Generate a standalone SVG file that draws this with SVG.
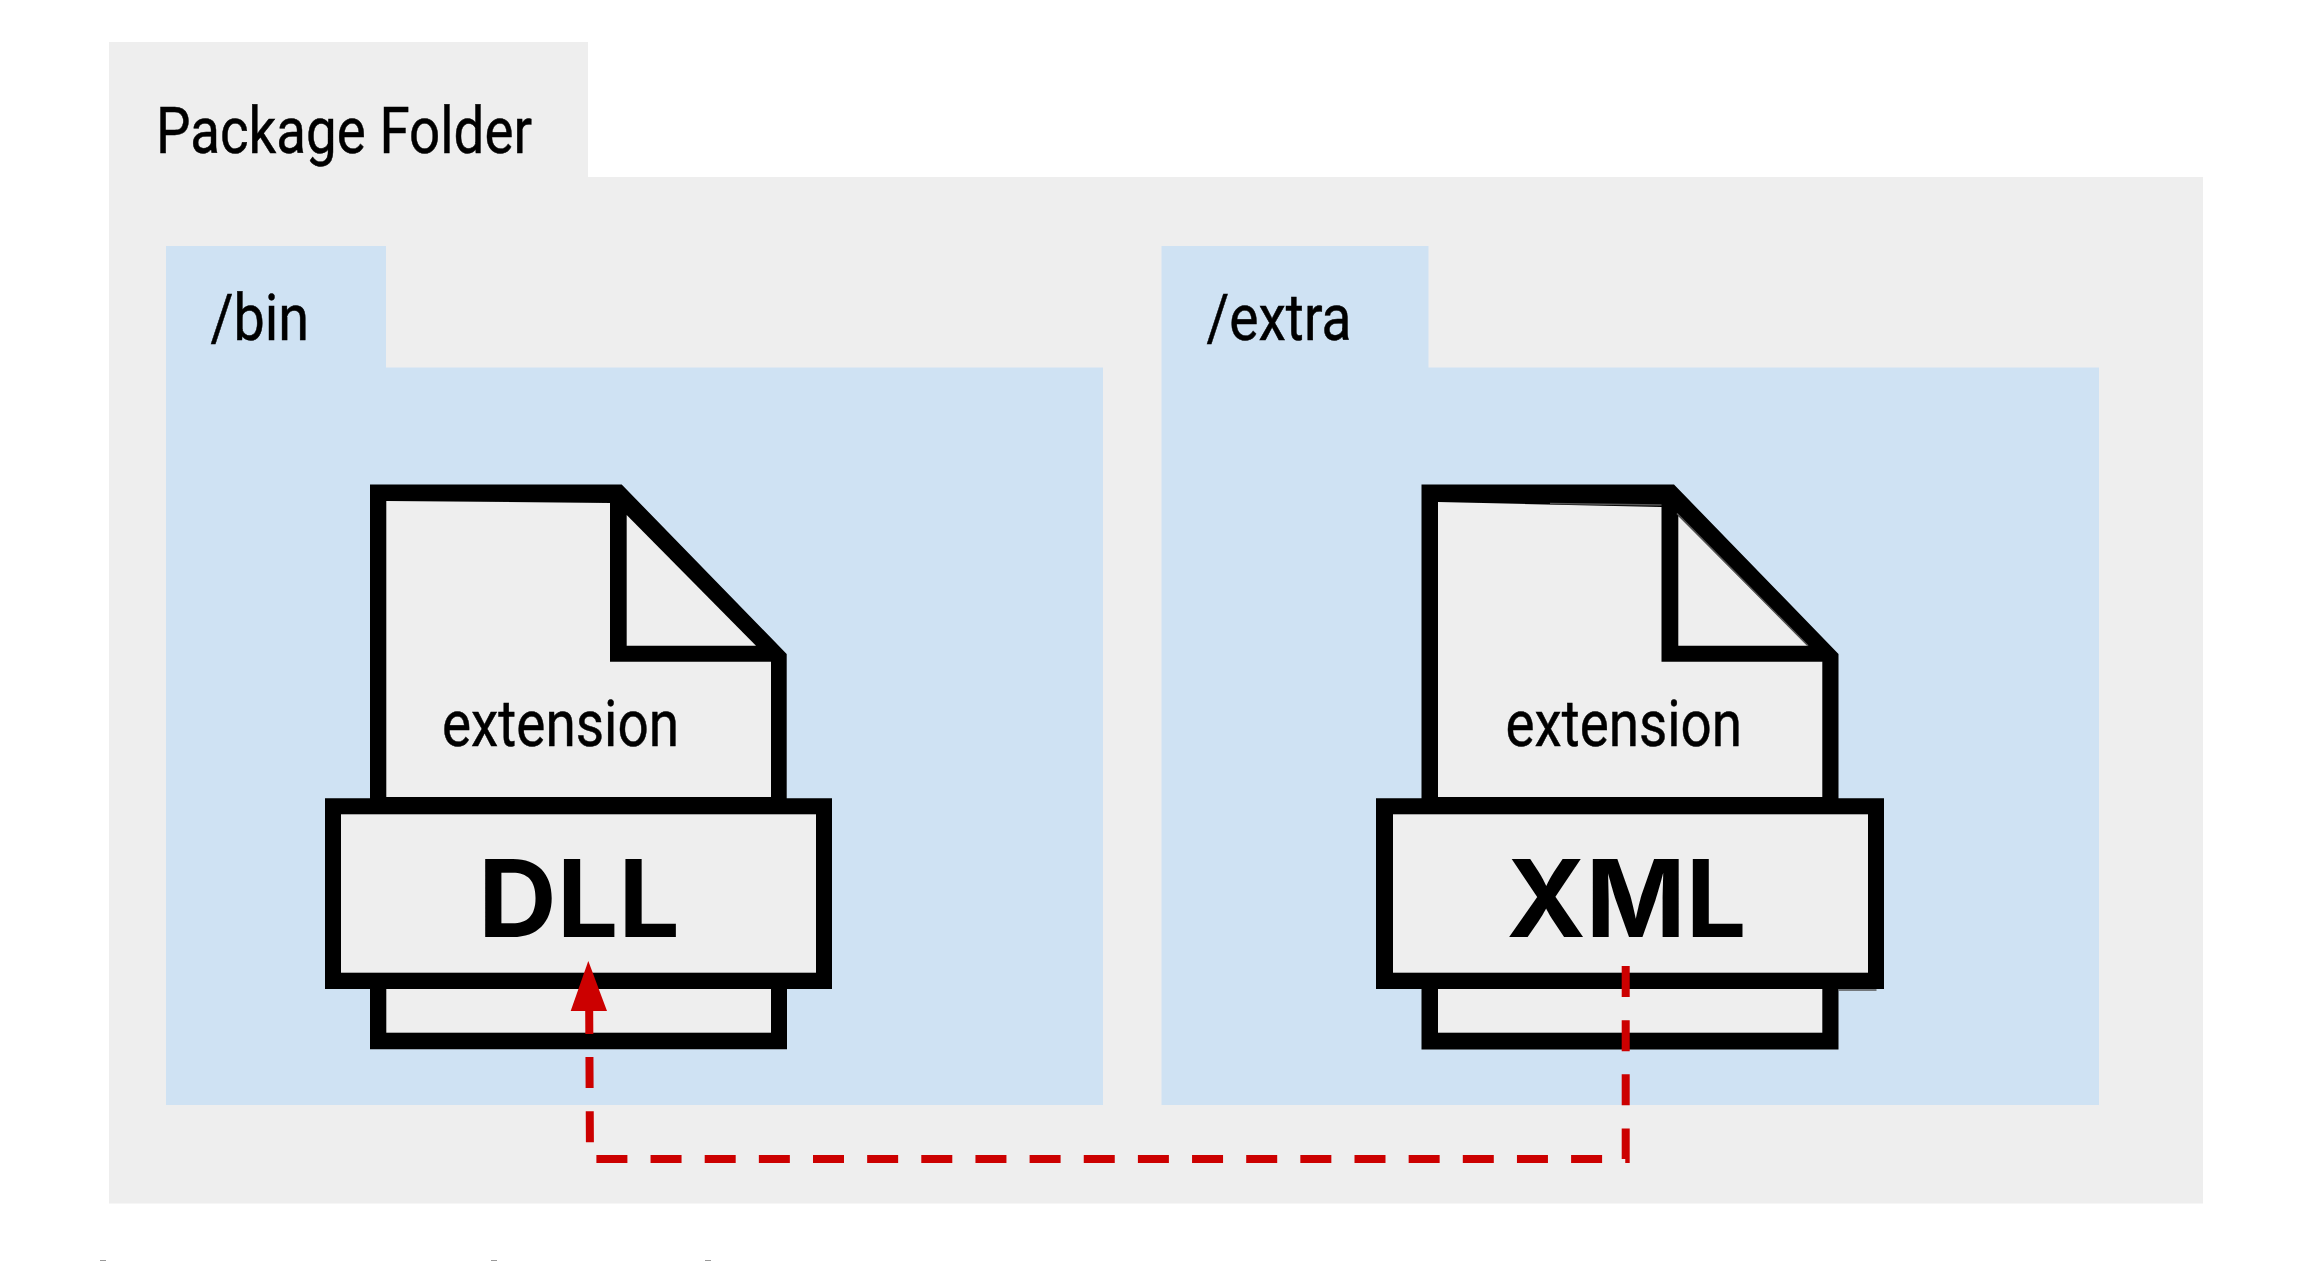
<svg xmlns="http://www.w3.org/2000/svg" width="2302" height="1261" viewBox="0 0 2302 1261">
<style>
.lbl{font-family:"Roboto","Liberation Sans",sans-serif;font-size:64px;fill:#000;stroke:#000;stroke-width:.5}
.ext{font-family:"Inter","Liberation Sans",sans-serif;font-weight:700;font-size:107px;fill:#000}
.page{fill:#eee;stroke:none}
.ink{fill:#000;stroke:none}
.conn{fill:none;stroke:#c00;stroke-width:8;stroke-dasharray:31 23.15}
.hair{fill:none;stroke:#555;stroke-width:1.5}
.clip{fill:#999;stroke:none}
</style>
<defs><filter id="soft" x="-5%" y="-5%" width="110%" height="110%"><feGaussianBlur stdDeviation="0.6"/></filter></defs>
<rect width="2302" height="1261" fill="#fff"/>
<g id="package-folder">
<path fill="#eee" d="M109 42H588V177H2203V1203.500H109Z"/>
<text class="lbl" x="156" y="152.500" textLength="376" lengthAdjust="spacingAndGlyphs">Package Folder</text>
</g>
<g id="bin-folder">
<path fill="#cfe2f3" d="M166 246H386V367.500H1103V1105H166Z"/>
<text class="lbl" x="210.500" y="340" textLength="98.500" lengthAdjust="spacingAndGlyphs">/bin</text>
</g>
<g id="extra-folder">
<path fill="#cfe2f3" d="M1161.500 246H1428.500V367.500H2099V1105H1161.500Z"/>
<text class="lbl" x="1206.500" y="340" textLength="145" lengthAdjust="spacingAndGlyphs">/extra</text>
</g>
<g id="dll-file">
<g filter="url(#soft)">
<path class="ink" d="M370 484.500H621.700L786.700 654V798.300H832V989H787V1049.300H370V989H325V798.300H370Z"/>
<path class="page" d="M386.300 501L610 503V661.700H771V797H386.300Z"/>
<path class="page" d="M626.700 515L756 645.700H626.700Z"/>
<rect class="page" x="341" y="814.300" width="475" height="158.400"/>
<rect class="page" x="386.300" y="989" width="384.700" height="43.700"/>
<text class="ext" x="478" y="937" textLength="202" lengthAdjust="spacingAndGlyphs">DLL</text>
</g>
<text class="lbl" x="442" y="746" textLength="237" lengthAdjust="spacingAndGlyphs">extension</text>
</g>
<g id="xml-file">
<g filter="url(#soft)">
<path class="ink" d="M1421.500 484.500H1674L1838.500 654V798.300H1884V989H1838.500V1049.500H1421.500V989H1376V798.300H1421.500Z"/>
<path class="page" d="M1438 502L1661.500 507V661.700H1822.300V797H1438Z"/>
<path class="page" d="M1678.300 516L1808 645.700H1678.300Z"/>
<rect class="page" x="1393" y="814.300" width="475" height="158.400"/>
<rect class="page" x="1438" y="989" width="384.300" height="43.700"/>
<text class="ext" x="1506.500" y="937" textLength="240" lengthAdjust="spacingAndGlyphs">XML</text>
</g>
<path class="hair" d="M1677 513.500L1808 645.700"/>
<path class="hair" d="M1550 503.500L1661.500 505"/>
<path class="hair" d="M1838.500 990H1876.500"/>
<text class="lbl" x="1505.500" y="746" textLength="236.500" lengthAdjust="spacingAndGlyphs">extension</text>
</g>
<g id="connectors">
<path class="conn" d="M1625.700 966V1159H590L589.200 1011"/>
<path fill="#c00" d="M588.300 961L607 1011H570.700Z"/>
</g>
<g id="clipped-marks">
<rect class="clip" x="100" y="1260" width="6" height="1"/>
<rect class="clip" x="491" y="1260" width="6" height="1"/>
<rect class="clip" x="705" y="1260" width="6" height="1"/>
</g>
</svg>
